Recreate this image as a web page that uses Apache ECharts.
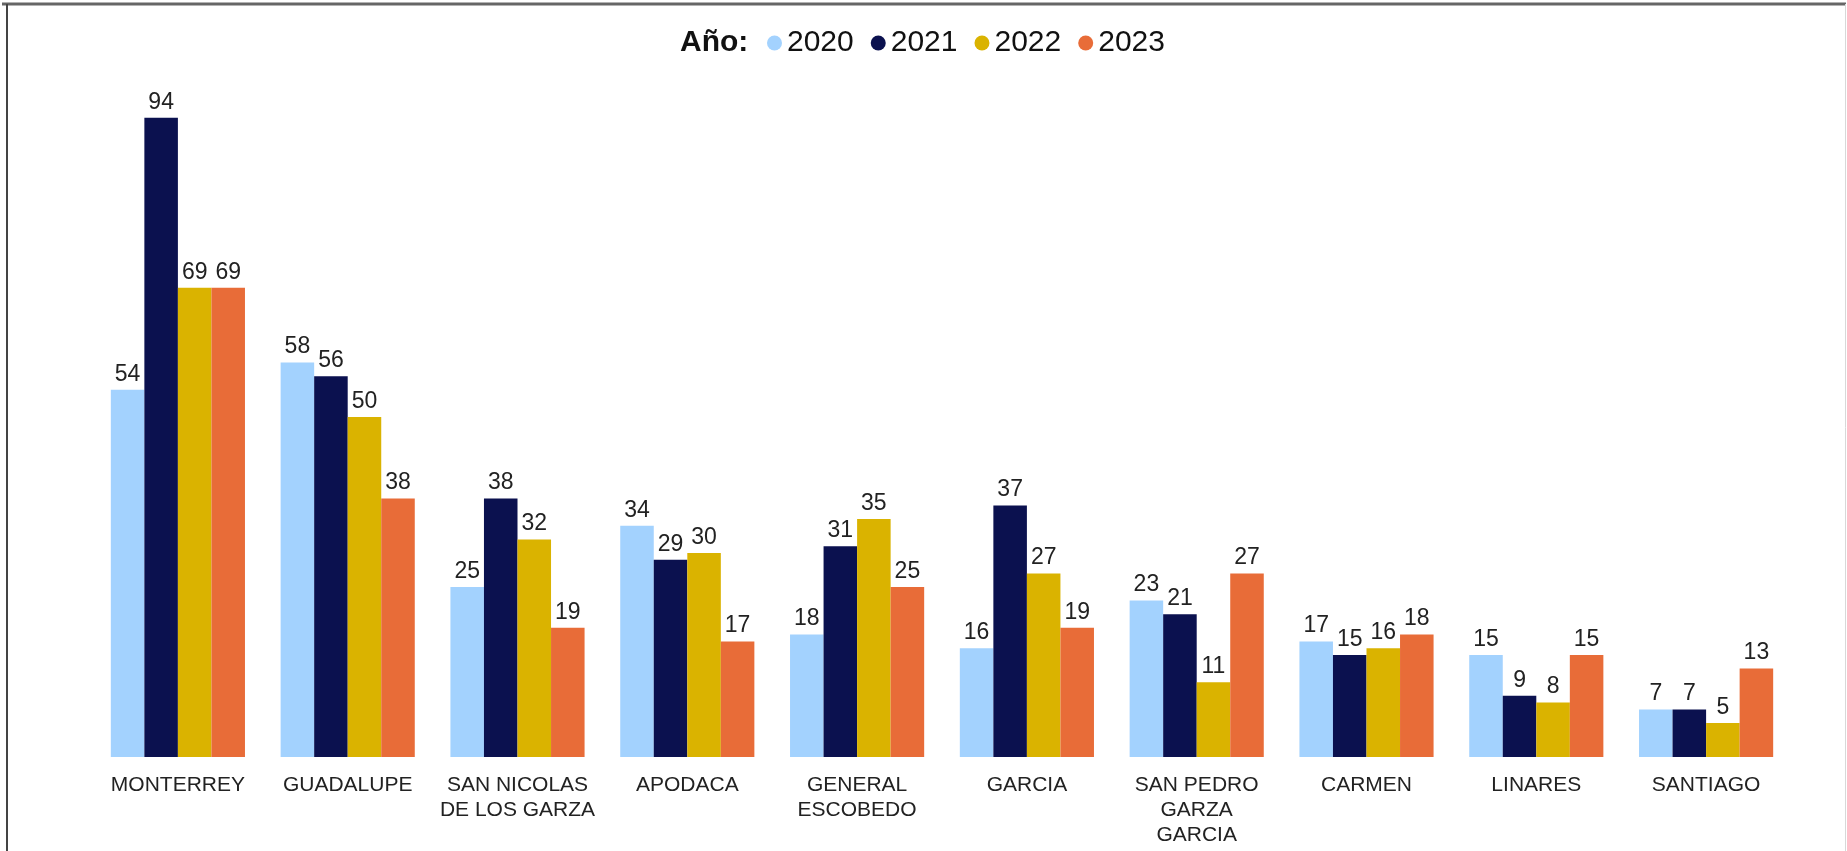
<!DOCTYPE html>
<html>
<head>
<meta charset="utf-8">
<script src="https://cdn.jsdelivr.net/npm/echarts@6/dist/echarts.min.js"></script>
<style>
  html, body { margin: 0; padding: 0; background: #fff; }
  #chart { width: 1847px; height: 851px; }
</style>
</head>
<body>
<div id="chart"></div>
<script>
// municipios y valores por año
var municipios = ['MONTERREY', 'GUADALUPE', 'SAN NICOLAS\nDE LOS GARZA', 'APODACA', 'GENERAL\nESCOBEDO',
  'GARCIA', 'SAN PEDRO\nGARZA\nGARCIA', 'CARMEN', 'LINARES', 'SANTIAGO'];
var anios = ['2020', '2021', '2022', '2023'];
var v2020 = [54, 58, 25, 34, 18, 16, 23, 17, 15, 7];
var v2021 = [94, 56, 38, 29, 31, 37, 21, 15, 9, 7];
var v2022 = [69, 50, 32, 30, 35, 27, 11, 16, 8, 5];
var v2023 = [69, 38, 19, 17, 25, 19, 27, 18, 15, 13];
var colores = ['#A3D2FE', '#0B114F', '#DAB300', '#E86C38'];

var fuente = 'Liberation Sans, Arial, sans-serif';
var valores = [v2020, v2021, v2022, v2023];
var series = [];
for (var i = 0; i < anios.length; i++) {
  series.push({
    name: anios[i],
    type: 'bar',
    data: valores[i],
    barGap: '0%',
    barCategoryGap: '21%',
    itemStyle: { color: colores[i] },
    label: {
      show: true,
      position: 'top',
      distance: 4,
      color: '#222',
      fontSize: 23,
      fontFamily: fuente
    }
  });
}

var myChart = echarts.init(document.getElementById('chart'));
var option = {
  animation: false,
  backgroundColor: '#fff',
  title: {
    text: 'Año:',
    left: 675,
    top: 23,
    textStyle: {
      fontSize: 30,
      fontWeight: 'bold',
      color: '#111',
      fontFamily: fuente
    }
  },
  legend: {
    data: anios,
    left: 762,
    top: 23,
    icon: 'circle',
    itemWidth: 15,
    itemHeight: 15,
    itemGap: 17,
    textStyle: {
      fontSize: 30,
      color: '#111',
      fontFamily: fuente
    }
  },
  grid: { left: 93, right: 56, top: 77, bottom: 94 },
  xAxis: {
    type: 'category',
    data: municipios,
    axisLine: { show: false },
    axisTick: { show: false },
    axisLabel: {
      interval: 0,
      margin: 16,
      color: '#222',
      fontSize: 21,
      lineHeight: 25,
      fontFamily: fuente
    }
  },
  yAxis: {
    type: 'value',
    min: 0,
    max: 100,
    show: false,
    splitLine: { show: false }
  },
  graphic: [
    { type: 'line', shape: { x1: 2, y1: 4, x2: 1846, y2: 4 }, style: { stroke: '#666', lineWidth: 3 } },
    { type: 'line', shape: { x1: 7, y1: 4, x2: 7, y2: 851 }, style: { stroke: '#444', lineWidth: 2 } },
    { type: 'line', shape: { x1: 1845.5, y1: 4, x2: 1845.5, y2: 851 }, style: { stroke: '#d8d8d8', lineWidth: 1 } }
  ],
  series: series
};
myChart.setOption(option);
</script>
</body>
</html>
